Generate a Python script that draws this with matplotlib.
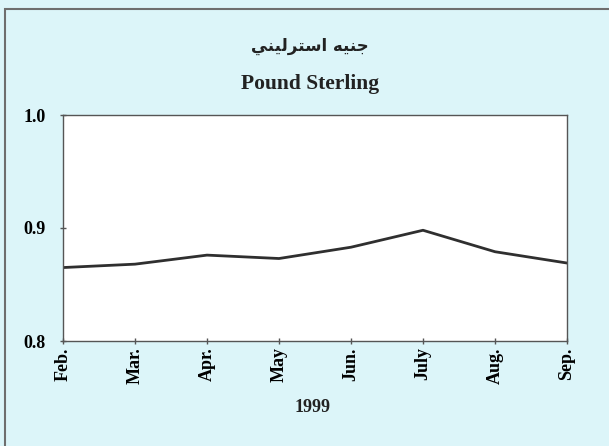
import matplotlib as mpl
import matplotlib.pyplot as plt
from matplotlib.patches import Rectangle

mpl.rcParams['font.family'] = ['Liberation Serif', 'DejaVu Serif']
mpl.rcParams['font.weight'] = 'bold'

months = ['Feb.', 'Mar.', 'Apr.', 'May', 'Jun.', 'July', 'Aug.', 'Sep.']
rates = [0.865, 0.868, 0.876, 0.873, 0.883, 0.898, 0.879, 0.869]
yticks = [0.8, 0.9, 1.0]
ytick_labels = ['0.8', '0.9', '1.0']

# "جنيه استرليني" in Arabic presentation forms, visual order (no shaping in mpl)
title_ar = '\uFEF2\uFEE8\uFEF4\uFEDF\uFEAE\uFE98\uFEB3\uFE8D \uFEEA\uFEF4\uFEE8\uFE9F'
title_en = 'Pound Sterling'
year = '1999'

bg = '#dcf5f9'
fig = plt.figure(figsize=(6.09, 4.46), dpi=100, facecolor=bg)

# outer frame of the scanned panel
fig.patches.append(Rectangle((5 / 609, -0.05), 1.2, 1 - 9 / 446 + 0.05,
                             transform=fig.transFigure, fill=False,
                             edgecolor='#6e6e6e', linewidth=1.5))

ax = fig.add_axes((63 / 609, 105 / 446, 504 / 609, 226 / 446))
ax.set_facecolor('white')

x = list(range(len(months)))
ax.plot(x, rates, color='#2f2f2f', linewidth=2)

ax.set_xlim(0, len(months) - 1)
ax.set_ylim(0.8, 1.0)
ax.set_xticks(x)
ax.set_xticklabels(months, rotation=90, fontsize=13, fontweight='bold')
ax.set_yticks(yticks)
ax.set_yticklabels(ytick_labels, fontsize=13, fontweight='bold')
ax.tick_params(axis='both', direction='inout', length=5, width=1, color='#555555')
ax.tick_params(axis='x', pad=2)
ax.tick_params(axis='y', pad=10)

for s in ax.spines.values():
    s.set_color('#555555')
    s.set_linewidth(1)

fig.text(310 / 609, 1 - 46 / 446, title_ar, ha='center', va='center',
         fontsize=12, fontweight='bold', family=['DejaVu Sans'], color='#222222')
fig.text(310 / 609, 1 - 84 / 446, title_en, ha='center', va='center',
         fontsize=15.5, fontweight='bold', color='#222222')
fig.text(313 / 609, 1 - 407 / 446, year, ha='center', va='center',
         fontsize=13, fontweight='bold', color='#222222')

fig.savefig('out.png', dpi=100, facecolor=bg)
